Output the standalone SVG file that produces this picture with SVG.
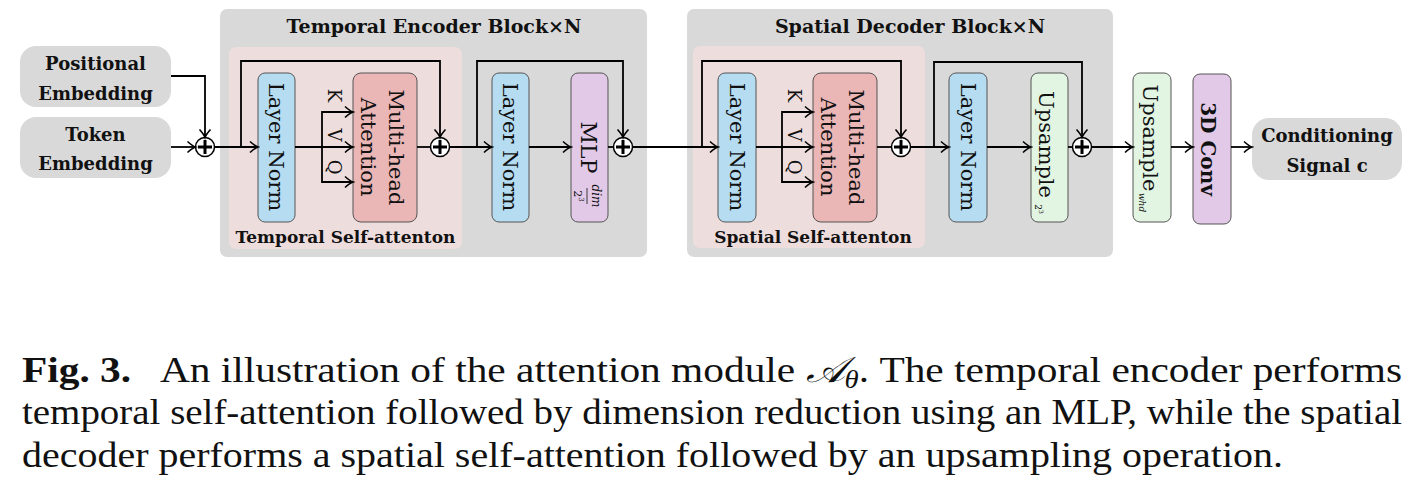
<svg xmlns="http://www.w3.org/2000/svg" width="1423" height="484" viewBox="0 0 1423 484">
<style>
.blk{fill:#d9d9d9}
.pink{fill:#eedddd}
.io{fill:#d9d9d9}
.nd{stroke:#555;stroke-width:1}
.ln{fill:#b5dcf1}
.mha{fill:#ebb6b6}
.mlp{fill:#e2c9e7}
.up{fill:#e1f5e2}
.t{font-family:"DejaVu Serif",serif;fill:#111}
.b{font-weight:bold}
.c{font-family:"Liberation Serif",serif;font-size:36px;fill:#111}
.con{fill:none;stroke:#000;stroke-width:1.8}
.arw{marker-end:url(#arr)}
.plus circle{fill:#fff;stroke:#000;stroke-width:1.5}
.plus path{stroke:#000;stroke-width:3}
</style>
<defs>
<marker id="arr" viewBox="-10 -7 12 14" refX="0" refY="0" markerWidth="12" markerHeight="14" markerUnits="userSpaceOnUse" orient="auto">
<path d="M-8,-5.5 Q-3,-1 0,0 Q-3,1 -8,5.5" fill="none" stroke="#000" stroke-width="1.6"/>
</marker>
</defs>

<g id="temporal-encoder-block">
<rect class="blk" x="220" y="9" width="427" height="248" rx="7"/>
<text class="t b" x="434" y="33" font-size="19" text-anchor="middle">Temporal Encoder Block×N</text>
</g>
<g id="temporal-self-attention">
<rect class="pink" x="229" y="47" width="233" height="202" rx="7"/>
<text class="t b" x="345.5" y="243" font-size="17" text-anchor="middle">Temporal Self-attenton</text>
</g>
<g id="spatial-decoder-block">
<rect class="blk" x="687" y="9" width="426" height="248" rx="7"/>
<text class="t b" x="910" y="33" font-size="19" text-anchor="middle">Spatial Decoder Block×N</text>
</g>
<g id="spatial-self-attention">
<rect class="pink" x="693" y="46" width="232" height="202" rx="7"/>
<text class="t b" x="813" y="243" font-size="17" text-anchor="middle">Spatial Self-attenton</text>
</g>

<g id="positional-embedding">
<rect class="io" x="20" y="46" width="151" height="61" rx="16"/>
<text class="t b" x="95.5" y="70" font-size="18" text-anchor="middle">Positional</text>
<text class="t b" x="95.5" y="100" font-size="18" text-anchor="middle">Embedding</text>
</g>
<g id="token-embedding">
<rect class="io" x="20" y="117" width="151" height="61" rx="16"/>
<text class="t b" x="95.5" y="141" font-size="18" text-anchor="middle">Token</text>
<text class="t b" x="95.5" y="170" font-size="18" text-anchor="middle">Embedding</text>
</g>

<g id="layernorm-1">
<rect class="nd ln" x="258" y="73" width="37" height="149" rx="7"/>
<text class="t" transform="translate(269,147) rotate(90)" font-size="21" text-anchor="middle">Layer Norm</text>
</g>
<g id="mha-1">
<rect class="nd mha" x="353" y="73" width="64" height="149" rx="8"/>
<text class="t" transform="translate(389,147.5) rotate(90)" font-size="21" text-anchor="middle">Multi-head</text>
<text class="t" transform="translate(361,147) rotate(90)" font-size="21" text-anchor="middle">Attention</text>
</g>
<g id="kvq-1">
<text class="t" transform="translate(328,95.5) rotate(90)" font-size="18" text-anchor="middle">K</text>
<text class="t" transform="translate(328,135) rotate(90)" font-size="18" text-anchor="middle">V</text>
<text class="t" transform="translate(328,167) rotate(90)" font-size="18" text-anchor="middle">Q</text>
</g>
<g id="layernorm-2">
<rect class="nd ln" x="492" y="73" width="37" height="149" rx="7"/>
<text class="t" transform="translate(503,147) rotate(90)" font-size="21" text-anchor="middle">Layer Norm</text>
</g>
<g id="mlp">
<rect class="nd mlp" x="571" y="73" width="37" height="149" rx="7"/>
<text class="t" transform="translate(581,147.5) rotate(90)" font-size="22" text-anchor="middle">MLP</text>
<text class="t" transform="translate(592,196) rotate(90)" font-size="12" font-style="italic" text-anchor="middle">dim</text>
<line x1="587" y1="188" x2="587" y2="204" stroke="#111" stroke-width="0.8"/>
<text class="t" transform="translate(574,196) rotate(90)" font-size="11" text-anchor="middle">2<tspan font-size="7" dy="-5">3</tspan></text>
</g>

<g id="layernorm-3">
<rect class="nd ln" x="718" y="73" width="38" height="149" rx="7"/>
<text class="t" transform="translate(729.5,147) rotate(90)" font-size="21" text-anchor="middle">Layer Norm</text>
</g>
<g id="mha-2">
<rect class="nd mha" x="813" y="73" width="64" height="149" rx="8"/>
<text class="t" transform="translate(849,147.5) rotate(90)" font-size="21" text-anchor="middle">Multi-head</text>
<text class="t" transform="translate(821,147) rotate(90)" font-size="21" text-anchor="middle">Attention</text>
</g>
<g id="kvq-2">
<text class="t" transform="translate(788,95.5) rotate(90)" font-size="18" text-anchor="middle">K</text>
<text class="t" transform="translate(788,135) rotate(90)" font-size="18" text-anchor="middle">V</text>
<text class="t" transform="translate(788,167) rotate(90)" font-size="18" text-anchor="middle">Q</text>
</g>
<g id="layernorm-4">
<rect class="nd ln" x="949" y="73" width="38" height="149" rx="7"/>
<text class="t" transform="translate(960.5,147) rotate(90)" font-size="21" text-anchor="middle">Layer Norm</text>
</g>
<g id="upsample-1">
<rect class="nd up" x="1031" y="73" width="37" height="149" rx="7"/>
<text class="t" transform="translate(1039,144.5) rotate(90)" font-size="21" text-anchor="middle">Upsample</text>
<text class="t" transform="translate(1035,209) rotate(90)" font-size="9" text-anchor="middle">2<tspan font-size="6" dy="-4">3</tspan></text>
</g>
<g id="upsample-2">
<rect class="nd up" x="1133" y="73" width="38" height="149" rx="7"/>
<text class="t" transform="translate(1143,138) rotate(90)" font-size="21" text-anchor="middle">Upsample</text>
<text class="t" transform="translate(1139,202.5) rotate(90)" font-size="9" font-style="italic" text-anchor="middle">whd</text>
</g>
<g id="conv3d">
<rect class="nd mlp" x="1193" y="74" width="38" height="150" rx="7"/>
<text class="t b" transform="translate(1201,149) rotate(90)" font-size="20" text-anchor="middle">3D Conv</text>
</g>
<g id="conditioning-signal">
<rect class="io" x="1252" y="118" width="150" height="62" rx="17"/>
<text class="t b" x="1327" y="142" font-size="18" text-anchor="middle">Conditioning</text>
<text class="t b" x="1327" y="172" font-size="18" text-anchor="middle">Signal <tspan>c</tspan></text>
</g>

<g id="adders" class="plus">
<g id="add-1" transform="translate(205,147)"><circle r="9.5"/><path d="M-7,0 H7 M0,-7 V7"/></g>
<g id="add-2" transform="translate(440,147)"><circle r="9.5"/><path d="M-7,0 H7 M0,-7 V7"/></g>
<g id="add-3" transform="translate(623,147)"><circle r="9.5"/><path d="M-7,0 H7 M0,-7 V7"/></g>
<g id="add-4" transform="translate(901,147)"><circle r="9.5"/><path d="M-7,0 H7 M0,-7 V7"/></g>
<g id="add-5" transform="translate(1082,147)"><circle r="9.5"/><path d="M-7,0 H7 M0,-7 V7"/></g>
</g>

<g id="connectors" class="con">
<path class="arw" d="M171,76 H205 V137.5"/>
<path class="arw" d="M171,147 H195.5"/>
<path class="arw" d="M214.5,147 H258"/>
<path class="arw" d="M241,147 V61 H440 V137.5"/>
<path class="arw" d="M295,147 H353"/>
<path class="arw" d="M322,147 V112 H353"/>
<path class="arw" d="M322,147 V182 H353"/>
<path d="M417,147 H430.5"/>
<path class="arw" d="M449.5,147 H492"/>
<path class="arw" d="M477,147 V61 H623 V137.5"/>
<path class="arw" d="M529,147 H571"/>
<path d="M608,147 H613.5"/>
<path class="arw" d="M632.5,147 H718"/>
<path class="arw" d="M702,147 V61 H901 V137.5"/>
<path class="arw" d="M756,147 H813"/>
<path class="arw" d="M782,147 V112 H813"/>
<path class="arw" d="M782,147 V182 H813"/>
<path d="M877,147 H891.5"/>
<path class="arw" d="M910.5,147 H949"/>
<path class="arw" d="M934,147 V62 H1082 V137.5"/>
<path class="arw" d="M987,147 H1031"/>
<path d="M1068,147 H1072.5"/>
<path class="arw" d="M1091.5,147 H1133"/>
<path class="arw" d="M1171,147 H1193"/>
<path class="arw" d="M1231,147 H1252"/>
</g>

<g id="caption">
<text class="c" x="22" y="382" textLength="1380" lengthAdjust="spacingAndGlyphs"><tspan font-weight="bold">Fig. 3.</tspan>&#160;&#160; An illustration of the attention module <tspan font-family="'DejaVu Serif','Noto Sans',serif" font-style="italic">𝒜</tspan><tspan font-style="italic" font-size="25" dy="6">θ</tspan><tspan dy="-6">. The temporal encoder performs</tspan></text>
<text class="c" x="22" y="424" textLength="1380" lengthAdjust="spacingAndGlyphs">temporal self-attention followed by dimension reduction using an MLP, while the spatial</text>
<text class="c" x="22" y="467" textLength="1261" lengthAdjust="spacingAndGlyphs">decoder performs a spatial self-attention followed by an upsampling operation.</text>
</g>
</svg>
